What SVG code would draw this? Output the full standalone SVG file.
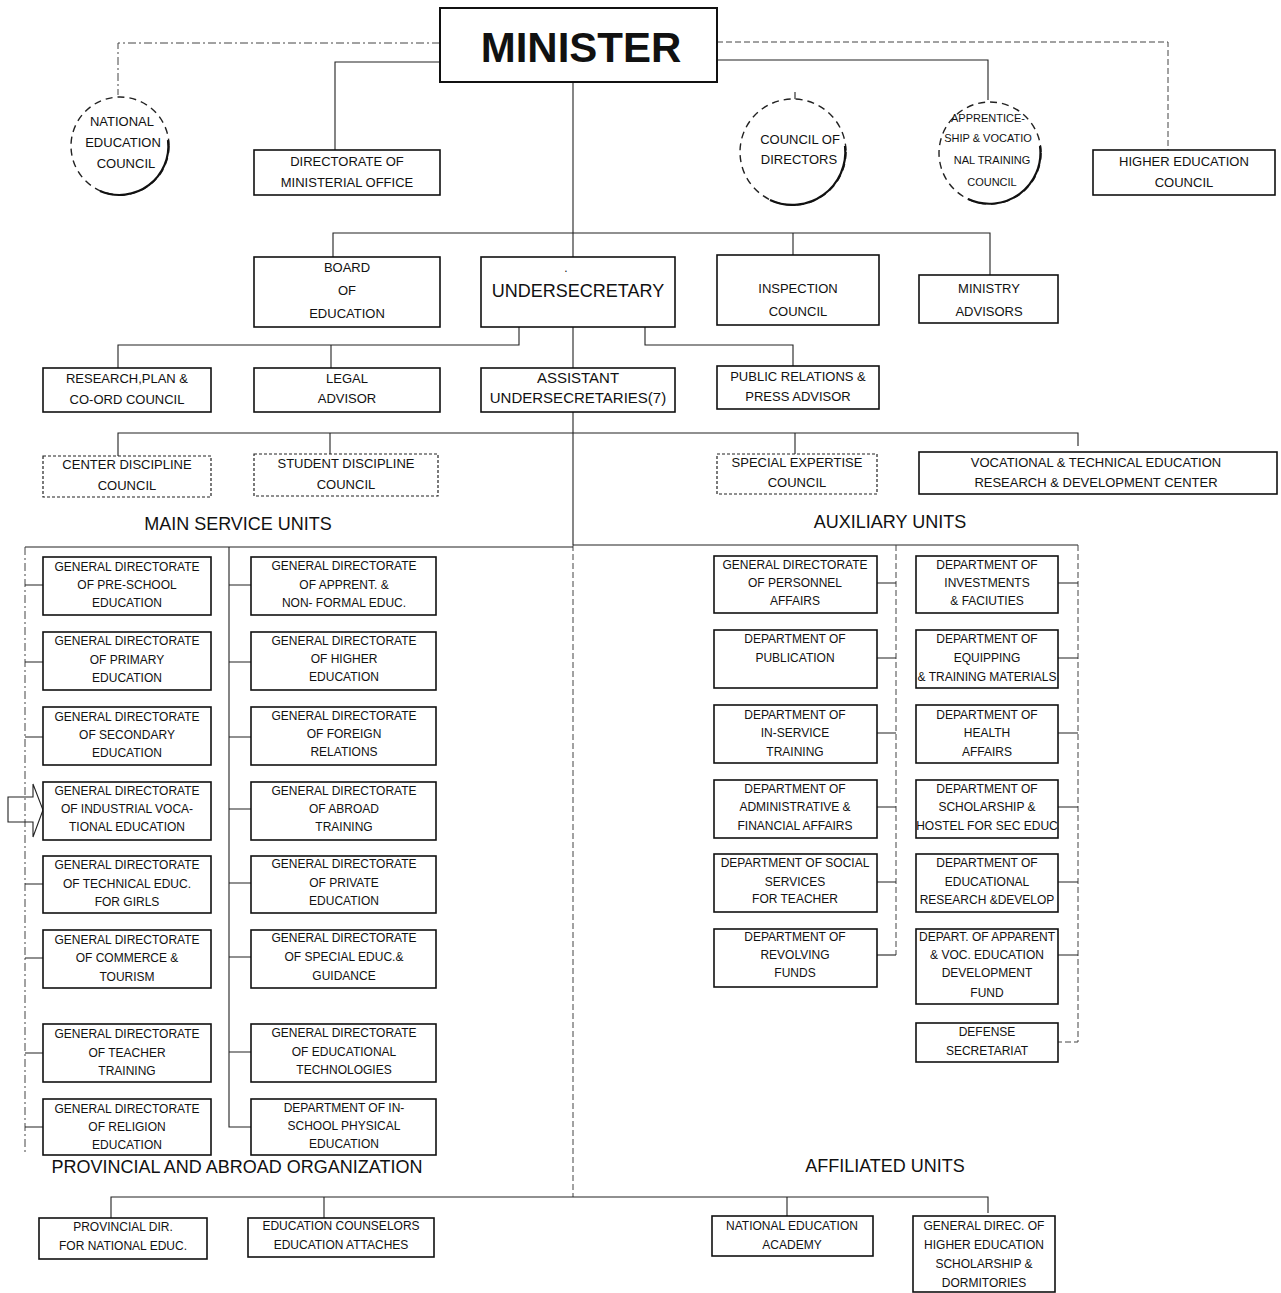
<svg xmlns="http://www.w3.org/2000/svg" width="1281" height="1293" viewBox="0 0 1281 1293">
<style>
.bg{fill:#fff}
.box{fill:#fff;stroke:#111;stroke-width:1.6}
.dbox{fill:#fff;stroke:#222;stroke-width:1.2;stroke-dasharray:3 2}
.circ{fill:#fff;stroke:#222;stroke-width:1.4;stroke-dasharray:7 5}
.arc{fill:none;stroke:#111;stroke-width:2.2}
.t{font-family:"Liberation Sans",Arial,sans-serif;font-size:12px;text-anchor:middle;fill:#111}
.t13{font-size:13px}
.t11{font-size:11px}
.lbl{font-family:"Liberation Sans",Arial,sans-serif;font-size:18px;text-anchor:middle;fill:#111}
.c{fill:none;stroke:#222;stroke-width:1.1}
.cd{fill:none;stroke:#444;stroke-width:1;stroke-dasharray:6 3}
.cdd{fill:none;stroke:#444;stroke-width:1;stroke-dasharray:8 3 2 3}
</style>
<rect class="bg" x="0" y="0" width="1281" height="1293"/>

<g id="connectors">
  <path class="cdd" d="M440,43 H118 V95"/>
  <path class="c" d="M440,62 H335 V150"/>
  <path class="c" d="M573,82 V233"/>
  <path class="cd" d="M717,42 H1168 V150"/>
  <path class="c" d="M717,60 H988 V100"/>
  <path class="c" d="M795,92 V100"/>
  <path class="c" d="M333,257 V233 H990 V275"/>
  <path class="c" d="M573,233 V257"/>
  <path class="c" d="M793,233 V255"/>
  <path class="c" d="M519,327 V345 H118 V368"/>
  <path class="c" d="M331,345 V368"/>
  <path class="c" d="M573,327 V368"/>
  <path class="c" d="M645,327 V345 H793 V366"/>
  <path class="c" d="M573,412 V545"/>
  <path class="cd" d="M573,545 V1197"/>
  <path class="c" d="M118,456 V433 H1078 V446"/>
  <path class="c" d="M330,433 V454"/>
  <path class="c" d="M795,433 V454"/>
  <path class="c" d="M25,547 H573"/>
  <path class="cdd" d="M25,547 V1155"/>
  <path class="c" d="M25,585 H43 M25,662 H43 M25,737 H43 M25,884 H43 M25,958 H43 M25,1053 H43 M25,1127 H43"/>
  <path class="c" d="M8,797 H33 V784 L43,810 L33,837 V822 H8 Z"/>
  <path class="c" d="M229,547 V1127 H251"/>
  <path class="c" d="M229,585 H251 M229,662 H251 M229,737 H251 M229,809 H251 M229,883 H251 M229,957 H251 M229,1052 H251"/>
  <path class="c" d="M573,545 H1078"/>
  <path class="cd" d="M1078,545 V1042 H1058"/>
  <path class="c" d="M1058,583 H1078 M1058,658 H1078 M1058,733 H1078 M1058,807 H1078 M1058,882 H1078 M1058,955 H1078"/>
  <path class="cd" d="M896,545 V955"/>
  <path class="c" d="M896,955 H877"/>
  <path class="c" d="M877,583 H896 M866,658 H896 M877,733 H896 M877,807 H896 M866,882 H896"/>
  <path class="c" d="M111,1218 V1197 H988 V1213"/>
  <path class="c" d="M324,1197 V1218"/>
  <path class="c" d="M787,1197 V1216"/>
</g>

<g id="minister">
  <rect class="box" x="440" y="8" width="277" height="74" style="stroke-width:2"/>
  <text class="t" x="581" y="62" style="font-size:42px;font-weight:bold">MINISTER</text>
</g>
<g id="national-education-council">
  <circle class="circ" cx="120" cy="146" r="49"/>
  <path class="arc" d="M168,140 A49,49 0 0 1 100,191"/>
  <text class="t t13" x="122" y="126">NATIONAL</text>
  <text class="t t13" x="123" y="147">EDUCATION</text>
  <text class="t t13" x="126" y="168">COUNCIL</text>
</g>
<g id="directorate-ministerial-office">
  <rect class="box" x="254" y="150" width="186" height="45"/>
  <text class="t t13" x="347" y="166">DIRECTORATE OF</text>
  <text class="t t13" x="347" y="187">MINISTERIAL OFFICE</text>
</g>
<g id="council-of-directors">
  <circle class="circ" cx="793" cy="152" r="53"/>
  <path class="arc" d="M845,146 A53,53 0 0 1 770,200"/>
  <text class="t t13" x="800" y="144">COUNCIL OF</text>
  <text class="t t13" x="799" y="164">DIRECTORS</text>
</g>
<g id="apprenticeship-council">
  <circle class="circ" cx="990" cy="153" r="51"/>
  <path class="arc" d="M1040,146 A51,51 0 0 1 968,199"/>
  <text class="t t11" x="988" y="122">APPRENTICE-</text>
  <text class="t t11" x="988" y="142">SHIP &amp; VOCATIO</text>
  <text class="t t11" x="992" y="164">NAL TRAINING</text>
  <text class="t t11" x="992" y="186">COUNCIL</text>
</g>
<g id="higher-education-council">
  <rect class="box" x="1093" y="150" width="182" height="45"/>
  <text class="t t13" x="1184" y="166">HIGHER EDUCATION</text>
  <text class="t t13" x="1184" y="187">COUNCIL</text>
</g>

<g id="board-of-education">
  <rect class="box" x="254" y="257" width="186" height="70"/>
  <text class="t t13" x="347" y="272">BOARD</text>
  <text class="t t13" x="347" y="295">OF</text>
  <text class="t t13" x="347" y="318">EDUCATION</text>
</g>
<g id="undersecretary">
  <rect class="box" x="481" y="257" width="194" height="70"/>
  <text class="t" x="566" y="272">.</text>
  <text class="t" x="578" y="297" style="font-size:18px">UNDERSECRETARY</text>
</g>
<g id="inspection-council">
  <rect class="box" x="717" y="255" width="162" height="70"/>
  <text class="t t13" x="798" y="293">INSPECTION</text>
  <text class="t t13" x="798" y="316">COUNCIL</text>
</g>
<g id="ministry-advisors">
  <rect class="box" x="919" y="275" width="139" height="48"/>
  <text class="t t13" x="989" y="293">MINISTRY</text>
  <text class="t t13" x="989" y="316">ADVISORS</text>
</g>

<g id="research-plan-council">
  <rect class="box" x="43" y="368" width="168" height="44"/>
  <text class="t t13" x="127" y="383">RESEARCH,PLAN &amp;</text>
  <text class="t t13" x="127" y="404">CO-ORD COUNCIL</text>
</g>
<g id="legal-advisor">
  <rect class="box" x="254" y="368" width="186" height="44"/>
  <text class="t t13" x="347" y="383">LEGAL</text>
  <text class="t t13" x="347" y="403">ADVISOR</text>
</g>
<g id="assistant-undersecretaries">
  <rect class="box" x="481" y="368" width="194" height="44"/>
  <text class="t" x="578" y="383" style="font-size:15px">ASSISTANT</text>
  <text class="t" x="578" y="403" style="font-size:15px">UNDERSECRETARIES(7)</text>
</g>
<g id="public-relations">
  <rect class="box" x="717" y="366" width="162" height="43"/>
  <text class="t t13" x="798" y="381">PUBLIC RELATIONS &amp;</text>
  <text class="t t13" x="798" y="401">PRESS ADVISOR</text>
</g>

<g id="center-discipline-council">
  <rect class="dbox" x="43" y="456" width="168" height="41"/>
  <text class="t t13" x="127" y="469">CENTER DISCIPLINE</text>
  <text class="t t13" x="127" y="490">COUNCIL</text>
</g>
<g id="student-discipline-council">
  <rect class="dbox" x="254" y="454" width="184" height="42"/>
  <text class="t t13" x="346" y="468">STUDENT DISCIPLINE</text>
  <text class="t t13" x="346" y="489">COUNCIL</text>
</g>
<g id="special-expertise-council">
  <rect class="dbox" x="717" y="454" width="160" height="40"/>
  <text class="t t13" x="797" y="467">SPECIAL EXPERTISE</text>
  <text class="t t13" x="797" y="487">COUNCIL</text>
</g>
<g id="vocational-rd-center">
  <rect class="box" x="919" y="452" width="358" height="42"/>
  <text class="t t13" x="1096" y="467">VOCATIONAL &amp; TECHNICAL EDUCATION</text>
  <text class="t t13" x="1096" y="487">RESEARCH &amp; DEVELOPMENT CENTER</text>
</g>

<text class="lbl" x="238" y="530">MAIN SERVICE UNITS</text>
<text class="lbl" x="890" y="528">AUXILIARY UNITS</text>

<g id="gd-pre-school">
  <rect class="box" x="43" y="557" width="168" height="58"/>
  <text class="t" x="127" y="571">GENERAL DIRECTORATE</text>
  <text class="t" x="127" y="589">OF PRE-SCHOOL</text>
  <text class="t" x="127" y="607">EDUCATION</text>
</g>
<g id="gd-primary">
  <rect class="box" x="43" y="632" width="168" height="58"/>
  <text class="t" x="127" y="645">GENERAL DIRECTORATE</text>
  <text class="t" x="127" y="664">OF PRIMARY</text>
  <text class="t" x="127" y="682">EDUCATION</text>
</g>
<g id="gd-secondary">
  <rect class="box" x="43" y="707" width="168" height="58"/>
  <text class="t" x="127" y="721">GENERAL DIRECTORATE</text>
  <text class="t" x="127" y="739">OF SECONDARY</text>
  <text class="t" x="127" y="757">EDUCATION</text>
</g>
<g id="gd-industrial-vocational">
  <rect class="box" x="43" y="782" width="168" height="58"/>
  <text class="t" x="127" y="795">GENERAL DIRECTORATE</text>
  <text class="t" x="127" y="813">OF INDUSTRIAL VOCA-</text>
  <text class="t" x="127" y="831">TIONAL EDUCATION</text>
</g>
<g id="gd-technical-girls">
  <rect class="box" x="43" y="856" width="168" height="57"/>
  <text class="t" x="127" y="869">GENERAL DIRECTORATE</text>
  <text class="t" x="127" y="888">OF TECHNICAL EDUC.</text>
  <text class="t" x="127" y="906">FOR GIRLS</text>
</g>
<g id="gd-commerce-tourism">
  <rect class="box" x="43" y="930" width="168" height="58"/>
  <text class="t" x="127" y="944">GENERAL DIRECTORATE</text>
  <text class="t" x="127" y="962">OF COMMERCE &amp;</text>
  <text class="t" x="127" y="981">TOURISM</text>
</g>
<g id="gd-teacher-training">
  <rect class="box" x="43" y="1024" width="168" height="58"/>
  <text class="t" x="127" y="1038">GENERAL DIRECTORATE</text>
  <text class="t" x="127" y="1057">OF TEACHER</text>
  <text class="t" x="127" y="1075">TRAINING</text>
</g>
<g id="gd-religion">
  <rect class="box" x="43" y="1099" width="168" height="56"/>
  <text class="t" x="127" y="1113">GENERAL DIRECTORATE</text>
  <text class="t" x="127" y="1131">OF RELIGION</text>
  <text class="t" x="127" y="1149">EDUCATION</text>
</g>

<g id="gd-apprent-nonformal">
  <rect class="box" x="251" y="557" width="185" height="58"/>
  <text class="t" x="344" y="570">GENERAL DIRECTORATE</text>
  <text class="t" x="344" y="589">OF APPRENT. &amp;</text>
  <text class="t" x="344" y="607">NON- FORMAL EDUC.</text>
</g>
<g id="gd-higher">
  <rect class="box" x="251" y="632" width="185" height="58"/>
  <text class="t" x="344" y="645">GENERAL DIRECTORATE</text>
  <text class="t" x="344" y="663">OF HIGHER</text>
  <text class="t" x="344" y="681">EDUCATION</text>
</g>
<g id="gd-foreign-relations">
  <rect class="box" x="251" y="707" width="185" height="58"/>
  <text class="t" x="344" y="720">GENERAL DIRECTORATE</text>
  <text class="t" x="344" y="738">OF FOREIGN</text>
  <text class="t" x="344" y="756">RELATIONS</text>
</g>
<g id="gd-abroad-training">
  <rect class="box" x="251" y="782" width="185" height="58"/>
  <text class="t" x="344" y="795">GENERAL DIRECTORATE</text>
  <text class="t" x="344" y="813">OF ABROAD</text>
  <text class="t" x="344" y="831">TRAINING</text>
</g>
<g id="gd-private">
  <rect class="box" x="251" y="856" width="185" height="57"/>
  <text class="t" x="344" y="868">GENERAL DIRECTORATE</text>
  <text class="t" x="344" y="887">OF PRIVATE</text>
  <text class="t" x="344" y="905">EDUCATION</text>
</g>
<g id="gd-special-educ">
  <rect class="box" x="251" y="930" width="185" height="58"/>
  <text class="t" x="344" y="942">GENERAL DIRECTORATE</text>
  <text class="t" x="344" y="961">OF SPECIAL EDUC.&amp;</text>
  <text class="t" x="344" y="980">GUIDANCE</text>
</g>
<g id="gd-educational-tech">
  <rect class="box" x="251" y="1024" width="185" height="58"/>
  <text class="t" x="344" y="1037">GENERAL DIRECTORATE</text>
  <text class="t" x="344" y="1056">OF EDUCATIONAL</text>
  <text class="t" x="344" y="1074">TECHNOLOGIES</text>
</g>
<g id="dept-physical-education">
  <rect class="box" x="251" y="1099" width="185" height="56"/>
  <text class="t" x="344" y="1112">DEPARTMENT OF IN-</text>
  <text class="t" x="344" y="1130">SCHOOL PHYSICAL</text>
  <text class="t" x="344" y="1148">EDUCATION</text>
</g>

<g id="gd-personnel">
  <rect class="box" x="714" y="556" width="163" height="57"/>
  <text class="t" x="795" y="569">GENERAL DIRECTORATE</text>
  <text class="t" x="795" y="587">OF PERSONNEL</text>
  <text class="t" x="795" y="605">AFFAIRS</text>
</g>
<g id="dept-publication">
  <rect class="box" x="714" y="630" width="163" height="58"/>
  <text class="t" x="795" y="643">DEPARTMENT OF</text>
  <text class="t" x="795" y="662">PUBLICATION</text>
</g>
<g id="dept-inservice">
  <rect class="box" x="714" y="705" width="163" height="58"/>
  <text class="t" x="795" y="719">DEPARTMENT OF</text>
  <text class="t" x="795" y="737">IN-SERVICE</text>
  <text class="t" x="795" y="756">TRAINING</text>
</g>
<g id="dept-admin-financial">
  <rect class="box" x="714" y="780" width="163" height="58"/>
  <text class="t" x="795" y="793">DEPARTMENT OF</text>
  <text class="t" x="795" y="811">ADMINISTRATIVE &amp;</text>
  <text class="t" x="795" y="830">FINANCIAL AFFAIRS</text>
</g>
<g id="dept-social-services">
  <rect class="box" x="714" y="854" width="163" height="58"/>
  <text class="t" x="795" y="867">DEPARTMENT OF SOCIAL</text>
  <text class="t" x="795" y="886">SERVICES</text>
  <text class="t" x="795" y="903">FOR TEACHER</text>
</g>
<g id="dept-revolving-funds">
  <rect class="box" x="714" y="929" width="163" height="58"/>
  <text class="t" x="795" y="941">DEPARTMENT OF</text>
  <text class="t" x="795" y="959">REVOLVING</text>
  <text class="t" x="795" y="977">FUNDS</text>
</g>

<g id="dept-investments">
  <rect class="box" x="916" y="556" width="142" height="57"/>
  <text class="t" x="987" y="569">DEPARTMENT OF</text>
  <text class="t" x="987" y="587">INVESTMENTS</text>
  <text class="t" x="987" y="605">&amp; FACIUTIES</text>
</g>
<g id="dept-equipping">
  <rect class="box" x="916" y="630" width="142" height="58"/>
  <text class="t" x="987" y="643">DEPARTMENT OF</text>
  <text class="t" x="987" y="662">EQUIPPING</text>
  <text class="t" x="987" y="681">&amp; TRAINING MATERIALS</text>
</g>
<g id="dept-health">
  <rect class="box" x="916" y="705" width="142" height="58"/>
  <text class="t" x="987" y="719">DEPARTMENT OF</text>
  <text class="t" x="987" y="737">HEALTH</text>
  <text class="t" x="987" y="756">AFFAIRS</text>
</g>
<g id="dept-scholarship-hostel">
  <rect class="box" x="916" y="780" width="142" height="58"/>
  <text class="t" x="987" y="793">DEPARTMENT OF</text>
  <text class="t" x="987" y="811">SCHOLARSHIP &amp;</text>
  <text class="t" x="987" y="830">HOSTEL FOR SEC EDUC</text>
</g>
<g id="dept-educational-research">
  <rect class="box" x="916" y="854" width="142" height="58"/>
  <text class="t" x="987" y="867">DEPARTMENT OF</text>
  <text class="t" x="987" y="886">EDUCATIONAL</text>
  <text class="t" x="987" y="904">RESEARCH &amp;DEVELOP</text>
</g>
<g id="dept-apparent-voc-fund">
  <rect class="box" x="916" y="929" width="142" height="75"/>
  <text class="t" x="987" y="941">DEPART. OF APPARENT</text>
  <text class="t" x="987" y="959">&amp; VOC. EDUCATION</text>
  <text class="t" x="987" y="977">DEVELOPMENT</text>
  <text class="t" x="987" y="997">FUND</text>
</g>
<g id="defense-secretariat">
  <rect class="box" x="916" y="1023" width="142" height="39"/>
  <text class="t" x="987" y="1036">DEFENSE</text>
  <text class="t" x="987" y="1055">SECRETARIAT</text>
</g>

<text class="lbl" x="237" y="1173">PROVINCIAL AND ABROAD ORGANIZATION</text>
<text class="lbl" x="885" y="1172">AFFILIATED UNITS</text>

<g id="provincial-dir">
  <rect class="box" x="39" y="1218" width="168" height="41"/>
  <text class="t" x="123" y="1231">PROVINCIAL DIR.</text>
  <text class="t" x="123" y="1250">FOR NATIONAL EDUC.</text>
</g>
<g id="education-counselors">
  <rect class="box" x="248" y="1218" width="186" height="39"/>
  <text class="t" x="341" y="1230">EDUCATION COUNSELORS</text>
  <text class="t" x="341" y="1249">EDUCATION ATTACHES</text>
</g>
<g id="national-education-academy">
  <rect class="box" x="712" y="1216" width="161" height="40"/>
  <text class="t" x="792" y="1230">NATIONAL EDUCATION</text>
  <text class="t" x="792" y="1249">ACADEMY</text>
</g>
<g id="gd-higher-ed-scholarship">
  <rect class="box" x="913" y="1216" width="142" height="76"/>
  <text class="t" x="984" y="1230">GENERAL DIREC. OF</text>
  <text class="t" x="984" y="1249">HIGHER EDUCATION</text>
  <text class="t" x="984" y="1268">SCHOLARSHIP &amp;</text>
  <text class="t" x="984" y="1287">DORMITORIES</text>
</g>
</svg>
